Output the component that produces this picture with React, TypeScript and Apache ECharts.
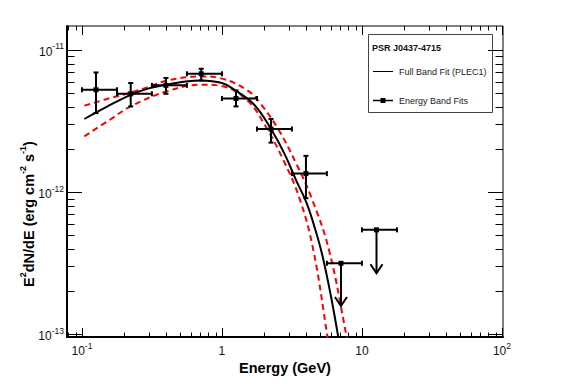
import React, { useEffect, useRef } from "react";
import * as echarts from "echarts";

// ---- Energy band fit points (GeV, erg cm^-2 s^-1) ----
const pointEnergy = [0.126, 0.223, 0.398, 0.711, 1.26, 2.24, 3.98];
const binLow = [0.1, 0.178, 0.316, 0.562, 1.0, 1.78, 3.16];
const binHigh = [0.178, 0.316, 0.562, 1.0, 1.78, 3.16, 5.62];
const flux = [5.25e-12, 4.92e-12, 5.64e-12, 6.8e-12, 4.56e-12, 2.78e-12, 1.35e-12];
const fluxLow = [3.6e-12, 4.01e-12, 4.92e-12, 6.1e-12, 4.01e-12, 2.23e-12, 9.07e-13];
const fluxHigh = [6.95e-12, 5.86e-12, 6.35e-12, 7.38e-12, 5.2e-12, 3.27e-12, 1.8e-12];

// ---- Upper limits ----
const ulEnergy = [7.08, 12.7];
const ulBinLow = [5.62, 10];
const ulBinHigh = [10, 17.8];
const ulFlux = [3.16e-13, 5.43e-13];
const ulArrowEnd = [1.58e-13, 2.69e-13];

// ---- Full band fit (PLEC1) ----
const fitE = [0.104, 0.15, 0.223, 0.3, 0.4, 0.55, 0.7, 1.0, 1.26, 1.7, 2.24, 2.8, 3.4, 4.0, 4.6, 5.2, 6.0, 6.8];
const fitF = [3.27e-12, 3.98e-12, 4.84e-12, 5.37e-12, 5.7e-12, 6.0e-12, 6.11e-12, 5.86e-12, 5.16e-12, 4.12e-12, 2.78e-12, 1.86e-12, 1.2e-12, 8.51e-13, 5.62e-13, 3.63e-13, 1.86e-13, 9.33e-14];

// ---- Fit uncertainty band (red dashed) ----
const upperE = [0.104, 0.158, 0.223, 0.3, 0.4, 0.711, 0.963, 1.5, 1.87, 2.52, 3.4, 4.37, 5.81, 7.78, 8.0];
const upperF = [4.06e-12, 4.58e-12, 5.02e-12, 5.5e-12, 6.08e-12, 6.52e-12, 6.35e-12, 5.25e-12, 4.23e-12, 2.78e-12, 1.58e-12, 9.07e-13, 3.93e-13, 9.57e-14, 8.1e-14];
const lowerE = [0.104, 0.158, 0.223, 0.4, 0.711, 0.963, 1.5, 2.03, 2.7, 3.57, 4.49, 5.67, 5.8];
const lowerF = [2.47e-12, 3.23e-12, 4.01e-12, 5.1e-12, 5.7e-12, 5.61e-12, 4.47e-12, 2.95e-12, 1.74e-12, 9.12e-13, 3.93e-13, 9.57e-14, 7.9e-14];

// ---- Axes ----
const xMin = 0.0782;
const xMax = 101.7;
const yMin = 9.57e-14;
const yMax = 1.475e-11;
const xMajorTicks = [0.1, 1, 10, 100];
const xTickLabels = ["{b|10}{s|-1}", "{b|1}", "{b|10}", "{b|10}{s|2}"];
const yMajorTicks = [1e-13, 1e-12, 1e-11];
const yTickLabels = ["{b|10}{s|-13}", "{b|10}{s|-12}", "{b|10}{s|-11}"];

const FONT = '"Liberation Sans", Arial, Helvetica, sans-serif';

function labelFor(ticks: number[], labels: string[]) {
  return (v: number) => {
    const l = Math.log10(v);
    for (let i = 0; i < ticks.length; i++) {
      if (Math.abs(l - Math.log10(ticks[i])) < 1e-6) return labels[i];
    }
    return "";
  };
}

function minorTicks(majors: number[], lo: number, hi: number) {
  const out: number[] = [];
  const decades = [majors[0] / 10, ...majors];
  for (const d of decades) {
    for (let m = 2; m <= 9; m++) {
      const v = d * m;
      if (v >= lo && v <= hi) out.push(v);
    }
  }
  return out;
}

const richLabel = {
  b: { fontSize: 12, fontFamily: FONT, color: "#111", lineHeight: 16, verticalAlign: "bottom" },
  s: { fontSize: 8.5, fontFamily: FONT, color: "#111", lineHeight: 10, verticalAlign: "top" },
};

export default function App() {
  const ref = useRef<HTMLDivElement>(null);

  useEffect(() => {
    if (!ref.current) return;
    const chart = echarts.init(ref.current, null, { renderer: "svg" });

    const tickData: number[][] = [];
    xMajorTicks.forEach((v) => tickData.push([v, 1e-12, 0, 1]));
    minorTicks(xMajorTicks, xMin, xMax).forEach((v) => tickData.push([v, 1e-12, 0, 0]));
    yMajorTicks.forEach((v) => tickData.push([1, v, 1, 1]));
    minorTicks(yMajorTicks, yMin, yMax).forEach((v) => tickData.push([1, v, 1, 0]));

    const lineStyle = { stroke: "#000", lineWidth: 2 };
    const cap = 2.5;

    const option: any = {
      animation: false,
      grid: {
        left: 67,
        top: 26,
        right: 64,
        bottom: 47,
        show: true,
        borderColor: "#000",
        borderWidth: 1,
      },
      xAxis: {
        type: "log",
        logBase: 10,
        min: xMin,
        max: xMax,
        axisLine: { show: true, onZero: false, lineStyle: { color: "#000", width: 2 } },
        axisTick: { show: false },
        minorTick: { show: false },
        splitLine: { show: false },
        axisLabel: {
          margin: 4,
          formatter: labelFor(xMajorTicks, xTickLabels),
          rich: richLabel,
          showMinLabel: true,
          showMaxLabel: true,
        },
      },
      yAxis: {
        type: "log",
        logBase: 10,
        min: yMin,
        max: yMax,
        axisLine: { show: true, onZero: false, lineStyle: { color: "#000", width: 2 } },
        axisTick: { show: false },
        minorTick: { show: false },
        splitLine: { show: false },
        axisLabel: {
          margin: 3,
          formatter: labelFor(yMajorTicks, yTickLabels),
          rich: richLabel,
        },
      },
      series: [
        {
          type: "custom",
          name: "ticks",
          silent: true,
          data: tickData,
          encode: { x: 0, y: 1 },
          renderItem: (params: any, api: any) => {
            const cs = params.coordSys;
            const kind = api.value(2);
            const major = api.value(3);
            const st = { stroke: "#000", lineWidth: 1 };
            if (kind === 0) {
              const px = Math.round(api.coord([api.value(0), 1e-12])[0]) + 0.5;
              if (px < cs.x + 1 || px > cs.x + cs.width) return null;
              const L = major ? 9 : 4.5;
              const yb = cs.y + cs.height;
              const yt = cs.y;
              return {
                type: "group",
                children: [
                  { type: "line", shape: { x1: px, y1: yb, x2: px, y2: yb - L }, style: st },
                  { type: "line", shape: { x1: px, y1: yt, x2: px, y2: yt + L }, style: st },
                ],
              };
            }
            const py = Math.round(api.coord([1, api.value(1)])[1]) + 0.5;
            if (py < cs.y || py > cs.y + cs.height - 1) return null;
            const L = major ? 15 : 7.5;
            const xl = cs.x;
            const xr = cs.x + cs.width;
            return {
              type: "group",
              children: [
                { type: "line", shape: { x1: xl, y1: py, x2: xl + L, y2: py }, style: st },
                { type: "line", shape: { x1: xr, y1: py, x2: xr - L, y2: py }, style: st },
              ],
            };
          },
          z: 1,
        },
        {
          type: "line",
          name: "upper",
          data: upperE.map((e, i) => [e, upperF[i]]),
          smooth: 0.4,
          showSymbol: false,
          symbol: "none",
          clip: true,
          lineStyle: { color: "#ff0000", width: 2, type: [6, 4] },
          z: 3,
        },
        {
          type: "line",
          name: "lower",
          data: lowerE.map((e, i) => [e, lowerF[i]]),
          smooth: 0.4,
          showSymbol: false,
          symbol: "none",
          clip: true,
          lineStyle: { color: "#ff0000", width: 2, type: [6, 4] },
          z: 3,
        },
        {
          type: "line",
          name: "Full Band Fit (PLEC1)",
          data: fitE.map((e, i) => [e, fitF[i]]),
          smooth: 0.4,
          showSymbol: false,
          symbol: "none",
          clip: true,
          lineStyle: { color: "#000", width: 2 },
          z: 4,
        },
        {
          type: "custom",
          name: "Energy Band Fits",
          data: pointEnergy.map((e, i) => [e, binLow[i], binHigh[i], flux[i], fluxLow[i], fluxHigh[i]]),
          encode: { x: [0, 1, 2], y: [3, 4, 5] },
          renderItem: (params: any, api: any) => {
            const e = api.value(0);
            const f = api.value(3);
            const c = api.coord([e, f]);
            const l = api.coord([api.value(1), f]);
            const r = api.coord([api.value(2), f]);
            const b = api.coord([e, api.value(4)]);
            const t = api.coord([e, api.value(5)]);
            return {
              type: "group",
              children: [
                { type: "line", shape: { x1: l[0], y1: c[1], x2: r[0], y2: c[1] }, style: lineStyle },
                { type: "line", shape: { x1: l[0], y1: c[1] - cap, x2: l[0], y2: c[1] + cap }, style: lineStyle },
                { type: "line", shape: { x1: r[0], y1: c[1] - cap, x2: r[0], y2: c[1] + cap }, style: lineStyle },
                { type: "line", shape: { x1: c[0], y1: b[1], x2: c[0], y2: t[1] }, style: lineStyle },
                { type: "line", shape: { x1: c[0] - cap, y1: b[1], x2: c[0] + cap, y2: b[1] }, style: lineStyle },
                { type: "line", shape: { x1: c[0] - cap, y1: t[1], x2: c[0] + cap, y2: t[1] }, style: lineStyle },
                { type: "rect", shape: { x: c[0] - 2.5, y: c[1] - 2.5, width: 5, height: 5 }, style: { fill: "#000" } },
              ],
            };
          },
          z: 6,
        },
        {
          type: "custom",
          name: "Upper limits",
          data: ulEnergy.map((e, i) => [e, ulBinLow[i], ulBinHigh[i], ulFlux[i], ulArrowEnd[i]]),
          encode: { x: [0, 1, 2], y: [3, 4] },
          renderItem: (params: any, api: any) => {
            const e = api.value(0);
            const f = api.value(3);
            const c = api.coord([e, f]);
            const l = api.coord([api.value(1), f]);
            const r = api.coord([api.value(2), f]);
            const b = api.coord([e, api.value(4)]);
            return {
              type: "group",
              children: [
                { type: "line", shape: { x1: l[0], y1: c[1], x2: r[0], y2: c[1] }, style: lineStyle },
                { type: "line", shape: { x1: l[0], y1: c[1] - cap, x2: l[0], y2: c[1] + cap }, style: lineStyle },
                { type: "line", shape: { x1: r[0], y1: c[1] - cap, x2: r[0], y2: c[1] + cap }, style: lineStyle },
                { type: "line", shape: { x1: c[0], y1: c[1], x2: c[0], y2: b[1] }, style: lineStyle },
                {
                  type: "polyline",
                  shape: { points: [[c[0] - 6, b[1] - 9], [c[0], b[1]], [c[0] + 6, b[1] - 9]] },
                  style: { stroke: "#000", lineWidth: 2, fill: "none" },
                },
                { type: "rect", shape: { x: c[0] - 2.5, y: c[1] - 2.5, width: 5, height: 5 }, style: { fill: "#000" } },
              ],
            };
          },
          z: 6,
        },
      ],
      graphic: [
        {
          type: "text",
          x: 285,
          y: 368,
          style: {
            text: "Energy (GeV)",
            font: `bold 14.5px ${FONT}`,
            fill: "#000",
            align: "center",
            verticalAlign: "middle",
            textAlign: "center",
            textVerticalAlign: "middle",
          },
        },
        {
          type: "text",
          x: 27,
          y: 214,
          rotation: Math.PI / 2,
          style: {
            text: "{b|E}{s|2}{b|dN/dE (erg cm}{s|-2}{b| s}{s|-1}{b|)}",
            rich: {
              b: { fontSize: 14.5, fontWeight: "bold", fontFamily: FONT, fill: "#000", lineHeight: 18, verticalAlign: "bottom" },
              s: { fontSize: 9, fontWeight: "bold", fontFamily: FONT, fill: "#000", lineHeight: 10, verticalAlign: "top" },
            },
            align: "center",
            verticalAlign: "middle",
            textAlign: "center",
            textVerticalAlign: "middle",
          },
        },
        {
          type: "group",
          z: 100,
          children: [
            {
              type: "rect",
              shape: { x: 368.5, y: 34.5, width: 124, height: 78 },
              style: { fill: "#fff", stroke: "#444", lineWidth: 1 },
            },
            {
              type: "text",
              x: 372,
              y: 48,
              style: {
                text: "PSR J0437-4715",
                font: `bold 9px ${FONT}`,
                fill: "#111",
                verticalAlign: "middle",
                textVerticalAlign: "middle",
              },
            },
            {
              type: "line",
              shape: { x1: 373, y1: 71.5, x2: 393, y2: 71.5 },
              style: { stroke: "#000", lineWidth: 1 },
            },
            {
              type: "text",
              x: 399,
              y: 72,
              style: {
                text: "Full Band Fit (PLEC1)",
                font: `9px ${FONT}`,
                fill: "#222",
                verticalAlign: "middle",
                textVerticalAlign: "middle",
              },
            },
            {
              type: "line",
              shape: { x1: 373, y1: 100.5, x2: 393, y2: 100.5 },
              style: { stroke: "#000", lineWidth: 1.5 },
            },
            {
              type: "rect",
              shape: { x: 380.5, y: 98, width: 5, height: 5 },
              style: { fill: "#000" },
            },
            {
              type: "text",
              x: 399,
              y: 101,
              style: {
                text: "Energy Band Fits",
                font: `9px ${FONT}`,
                fill: "#222",
                verticalAlign: "middle",
                textVerticalAlign: "middle",
              },
            },
          ],
        },
      ],
    };

    chart.setOption(option);
    return () => chart.dispose();
  }, []);

  return (
    <div
      ref={ref}
      style={{ position: "absolute", left: 0, top: 0, width: 567, height: 384, background: "#fff" }}
    />
  );
}
